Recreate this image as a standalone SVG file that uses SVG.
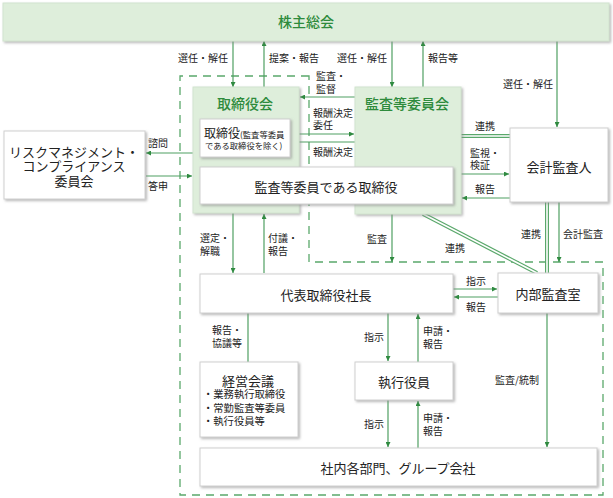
<svg xmlns="http://www.w3.org/2000/svg" width="613" height="498" viewBox="0 0 613 498">
<defs>
<style>
text{font-family:"Noto Sans CJK JP","Noto Sans",sans-serif;fill:#222;}
.lb{font-size:10px;}
.bt{font-size:13px;text-anchor:middle;dominant-baseline:central;}
.tt{font-size:14px;fill:#2e8b3c;text-anchor:middle;dominant-baseline:central;font-weight:500;}
.gbox{fill:#deeedb;stroke:#d2e4cf;stroke-width:1;filter:url(#sh);}
.wbox{fill:#fff;stroke:#cfcfcf;stroke-width:1;filter:url(#sh);}
.ln{stroke:#4f9f62;stroke-width:1.2;fill:none;}
.ar{stroke:#4f9f62;stroke-width:1.2;fill:none;marker-end:url(#ah);}
.dbo{stroke:#5aa86b;stroke-width:4;fill:none;}
.dbi{stroke:#fff;stroke-width:1.6;fill:none;}
.dash{stroke:#5aa86b;stroke-width:1.3;fill:none;stroke-dasharray:8 6;}
</style>
<filter id="sh" x="-5%" y="-10%" width="110%" height="130%">
<feDropShadow dx="1.5" dy="1.5" stdDeviation="0.8" flood-color="#888" flood-opacity="0.6"/>
</filter>
<marker id="ah" viewBox="0 0 10 10" refX="10" refY="5" markerWidth="5" markerHeight="5" orient="auto" markerUnits="userSpaceOnUse">
<path d="M0,0 L10,5 L0,10 z" fill="#2f8a40"/>
</marker>
</defs>
<rect width="613" height="498" fill="#fff"/>

<g id="dashed-region">
<path class="dash" d="M309,76 H180 V495 H603 V262 H309 Z"/>
</g>

<g id="connectors">
<line class="ar" x1="233" y1="41" x2="233" y2="87"/>
<line class="ar" x1="264" y1="87" x2="264" y2="41"/>
<line class="ar" x1="392" y1="41" x2="392" y2="87"/>
<line class="ar" x1="423" y1="87" x2="423" y2="41"/>
<line class="ar" x1="557" y1="41" x2="557" y2="127"/>
<line class="ar" x1="355" y1="97" x2="300" y2="97"/>
<line class="ar" x1="290" y1="134" x2="354" y2="134"/>
<line class="ar" x1="355" y1="142" x2="291" y2="142"/>
<line class="ar" x1="193" y1="153" x2="146" y2="153"/>
<line class="ar" x1="146" y1="176" x2="192" y2="176"/>
<line class="dbo" x1="461" y1="136" x2="510" y2="136"/>
<line class="dbi" x1="461" y1="136" x2="510" y2="136"/>
<line class="ar" x1="461" y1="174" x2="509" y2="174"/>
<line class="ar" x1="510" y1="198" x2="462" y2="198"/>
<line class="dbo" x1="547" y1="202" x2="547" y2="273"/>
<line class="dbi" x1="547" y1="202" x2="547" y2="273"/>
<line class="ar" x1="559" y1="202" x2="559" y2="262"/>
<line class="dbo" x1="423" y1="214" x2="537" y2="273"/>
<line class="dbi" x1="423" y1="214" x2="537" y2="273"/>
<line class="ar" x1="392" y1="214" x2="392" y2="262"/>
<line class="ar" x1="233" y1="213" x2="233" y2="273"/>
<line class="ar" x1="264" y1="273" x2="264" y2="214"/>
<line class="ar" x1="453" y1="289" x2="497" y2="289"/>
<line class="ar" x1="498" y1="297" x2="454" y2="297"/>
<line class="ln" x1="248" y1="313" x2="248" y2="362"/>
<line class="ar" x1="388" y1="313" x2="388" y2="361"/>
<line class="ar" x1="418" y1="362" x2="418" y2="314"/>
<line class="ar" x1="388" y1="400" x2="388" y2="447"/>
<line class="ar" x1="418" y1="448" x2="418" y2="401"/>
<line class="ar" x1="547" y1="313" x2="547" y2="447"/>
</g>

<g id="labels">
<text class="lb" x="178" y="62">選任・解任</text>
<text class="lb" x="269" y="62">提案・報告</text>
<text class="lb" x="337" y="62">選任・解任</text>
<text class="lb" x="428" y="62">報告等</text>
<text class="lb" x="503" y="88">選任・解任</text>
<text class="lb" x="316" y="80">監査・<tspan x="316" dy="13">監督</tspan></text>
<text class="lb" x="313" y="117">報酬決定<tspan x="313" dy="12">委任</tspan></text>
<text class="lb" x="313" y="156">報酬決定</text>
<text class="lb" x="148" y="147">諮問</text>
<text class="lb" x="148" y="190">答申</text>
<text class="lb" x="475" y="130">連携</text>
<text class="lb" x="470" y="157">監視・<tspan x="470" dy="12">検証</tspan></text>
<text class="lb" x="475" y="193">報告</text>
<text class="lb" x="521" y="238">連携</text>
<text class="lb" x="563" y="238">会計監査</text>
<text class="lb" x="367" y="243">監査</text>
<text class="lb" x="445" y="252">連携</text>
<text class="lb" x="200" y="242">選定・<tspan x="200" dy="13">解職</tspan></text>
<text class="lb" x="268" y="242">付議・<tspan x="268" dy="13">報告</tspan></text>
<text class="lb" x="466" y="285">指示</text>
<text class="lb" x="466" y="311">報告</text>
<text class="lb" x="212" y="334">報告・<tspan x="212" dy="13">協議等</tspan></text>
<text class="lb" x="364" y="341">指示</text>
<text class="lb" x="423" y="335">申請・<tspan x="423" dy="13">報告</tspan></text>
<text class="lb" x="364" y="428">指示</text>
<text class="lb" x="423" y="422">申請・<tspan x="423" dy="13">報告</tspan></text>
<text class="lb" x="495" y="384">監査/統制</text>
</g>

<g id="shareholders">
<rect class="gbox" x="3" y="3" width="606" height="38"/>
<text class="tt" x="306" y="21">株主総会</text>
</g>

<g id="board">
<rect class="gbox" x="193" y="87" width="106" height="126"/>
<text class="tt" x="245" y="103">取締役会</text>
</g>

<g id="directors">
<rect class="wbox" x="200" y="119" width="90" height="38"/>
<text x="204" y="138"><tspan font-size="12">取締役</tspan><tspan font-size="8.3">(監査等委員</tspan><tspan x="205" dy="11" font-size="8.3">である取締役を除く)</tspan></text>
</g>

<g id="audit-committee">
<rect class="gbox" x="355" y="87" width="106" height="127"/>
<text class="tt" x="407" y="103">監査等委員会</text>
</g>

<g id="audit-directors">
<rect class="wbox" x="200" y="167" width="253" height="37"/>
<text class="bt" x="326" y="186" font-size="13.5">監査等委員である取締役</text>
</g>

<g id="risk-committee">
<rect class="wbox" x="4" y="131" width="141" height="68"/>
<text x="74" y="156.5" font-size="13" text-anchor="middle">リスクマネジメント・<tspan x="74" dy="14.5">コンプライアンス</tspan><tspan x="74" dy="14.5">委員会</tspan></text>
</g>

<g id="accounting-auditor">
<rect class="wbox" x="510" y="128" width="98" height="74"/>
<text class="bt" x="559" y="166">会計監査人</text>
</g>

<g id="president">
<rect class="wbox" x="200" y="274" width="253" height="39"/>
<text class="bt" x="326" y="294">代表取締役社長</text>
</g>

<g id="internal-audit">
<rect class="wbox" x="498" y="273" width="100" height="40"/>
<text class="bt" x="548" y="293">内部監査室</text>
</g>

<g id="management-meeting">
<rect class="wbox" x="200" y="362" width="98" height="75"/>
<text class="bt" x="248" y="380">経営会議</text>
<text x="203" y="398" font-size="10.3">・業務執行取締役<tspan x="203" dy="13.5">・常勤監査等委員</tspan><tspan x="203" dy="13.5">・執行役員等</tspan></text>
</g>

<g id="executive-officers">
<rect class="wbox" x="355" y="362" width="98" height="38"/>
<text class="bt" x="404" y="381">執行役員</text>
</g>

<g id="departments">
<rect class="wbox" x="200" y="448" width="397" height="38"/>
<text class="bt" x="398" y="467">社内各部門、グループ会社</text>
</g>
</svg>
